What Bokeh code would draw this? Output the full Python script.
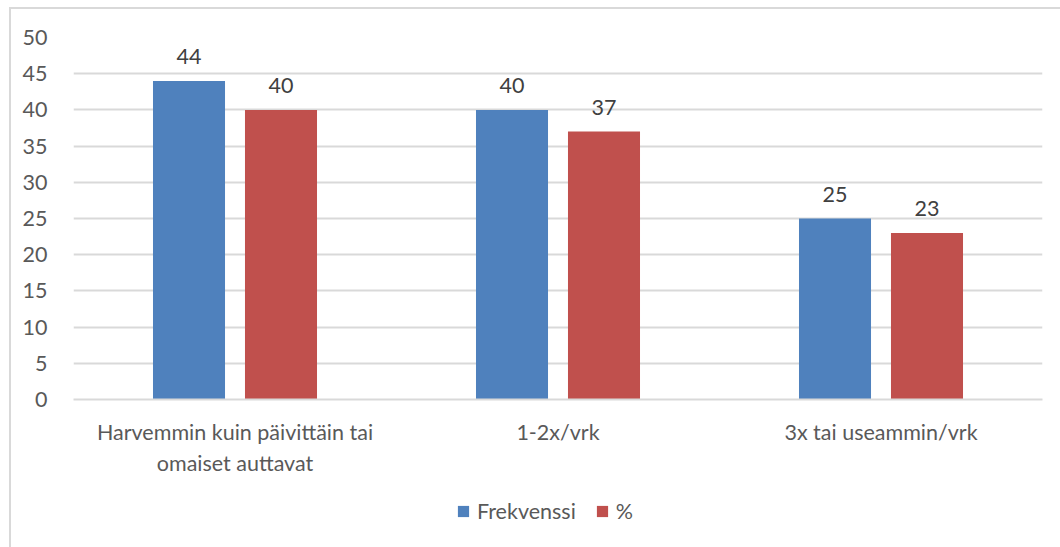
from bokeh.plotting import figure
from bokeh.models import ColumnDataSource, Legend, LegendItem, LabelSet, FactorRange
from bokeh.layouts import column
from bokeh.transform import dodge
from bokeh.core.properties import value
from bokeh.embed import file_html
from bokeh.resources import INLINE

categories = ["Harvemmin kuin päivittäin tai\nomaiset auttavat", "1-2x/vrk", "3x tai useammin/vrk"]
frekvenssi = [44, 40, 25]
prosentti = [40, 37, 23]
series_names = ["Frekvenssi", "%"]
y_ticks = [0, 5, 10, 15, 20, 25, 30, 35, 40, 45, 50]

BLUE = "#4F81BD"
RED = "#C0504D"
FONT = "Lato"
TXT = "#595959"
FS = "21.5px"

src = ColumnDataSource(dict(cat=categories, f=frekvenssi, p=prosentti,
                            fl=[str(v) for v in frekvenssi], pl=[str(v) for v in prosentti]))

p = figure(x_range=FactorRange(*categories, range_padding=0), y_range=(0, 50),
           width=1051, height=470, output_backend="svg", toolbar_location=None,
           min_border_left=62, min_border_right=20, min_border_top=28, min_border_bottom=80)
p.outline_line_color = None
p.background_fill_color = "white"
p.border_fill_color = "white"

r1 = p.vbar(x=dodge("cat", -0.1424, range=p.x_range), top="f", width=0.223, source=src,
            fill_color=BLUE, line_color=None)
r2 = p.vbar(x=dodge("cat", 0.1424, range=p.x_range), top="p", width=0.223, source=src,
            fill_color=RED, line_color=None)

for col, lab, off in (("f", "fl", -0.1424), ("p", "pl", 0.1424)):
    ls = LabelSet(x=dodge("cat", off, range=p.x_range), y=col, text=lab, source=src,
                  text_align="center", text_baseline="bottom", y_offset=17,
                  text_font=value(FONT), text_font_size=FS, text_color="#404040")
    p.add_layout(ls)

p.xgrid.grid_line_color = None
p.ygrid.grid_line_color = "#d9d9d9"
p.ygrid.grid_line_width = 2
p.yaxis.ticker = y_ticks
p.xaxis.axis_line_color = "#d9d9d9"
p.xaxis.axis_line_width = 2
p.yaxis.axis_line_color = None
for ax in (p.xaxis, p.yaxis):
    ax.major_tick_line_color = None
    ax.minor_tick_line_color = None
    ax.major_label_text_font = FONT
    ax.major_label_text_font_size = FS
    ax.major_label_text_color = TXT
p.yaxis.major_label_standoff = 20
p.xaxis.major_label_standoff = 13

# legend panel: proxy glyphs placed outside the visible range
lsrc = ColumnDataSource(dict(l=[5], r=[6], b=[5], t=[6]))
q = figure(width=1051, height=70, output_backend="svg", toolbar_location=None,
           min_border=0, x_range=(0, 1), y_range=(0, 1))
q.axis.visible = False
q.grid.visible = False
q.outline_line_color = None
q1 = q.quad(left="l", right="r", bottom="b", top="t", source=lsrc, fill_color=BLUE, line_color=None)
q2 = q.quad(left="l", right="r", bottom="b", top="t", source=lsrc, fill_color=RED, line_color=None)
legend = Legend(items=[LegendItem(label=series_names[0], renderers=[q1]),
                       LegendItem(label=series_names[1], renderers=[q2])],
                orientation="horizontal", location=(383, 25),
                border_line_color=None, background_fill_alpha=0,
                label_text_font=FONT, label_text_font_size=FS, label_text_color=TXT,
                glyph_width=14, glyph_height=14, spacing=19, label_standoff=7,
                padding=0, margin=0)
q.add_layout(legend)

layout = column(p, q, spacing=0)
layout.margin = (7, 0, 0, 9)
layout.styles = {"border-top": "2px solid #d9d9d9", "border-left": "2px solid #d9d9d9"}

open("out.html", "w").write(file_html(layout, INLINE))
